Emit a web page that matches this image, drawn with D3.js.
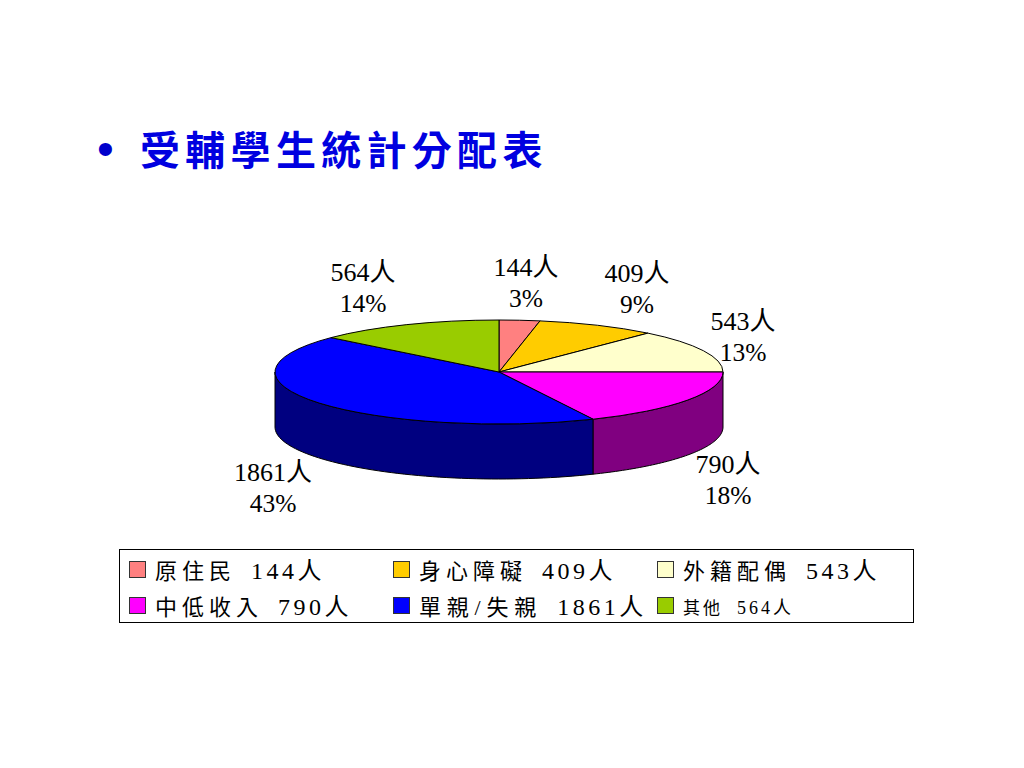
<!DOCTYPE html>
<html><head><meta charset="utf-8">
<script src="https://cdn.jsdelivr.net/npm/d3@7"></script>
<style>html,body{margin:0;padding:0;background:#fff;overflow:hidden}svg{display:block}</style>
</head><body><svg id="c" width="1024" height="768"></svg>
<script>
const titleText = "受輔學生統計分配表";
const categories = ["原住民","身心障礙","外籍配偶","中低收入","單親/失親","其他"];
const values = [144,409,543,790,1861,564];
const percents = [3,9,13,18,43,14];
const unit = "人";
const topColors = ["#FF8080","#FFCC00","#FFFFCC","#FF00FF","#0000FF","#99CC00"];
const sideColors = [null,null,null,"#800080","#000080",null];

const svg = d3.select("#c");
const serif = "'Liberation Serif','Noto Sans CJK TC',serif";
const cjk = "'Noto Sans CJK TC',serif";

// title
svg.append("text").attr("x",97).attr("y",165).attr("font-family","'Liberation Sans',sans-serif")
  .attr("font-size",48).attr("fill","#0000CC").text("•");
svg.append("text").attr("x",140).attr("y",165).attr("font-family",cjk).attr("font-weight",700)
  .attr("font-size",40).attr("letter-spacing",5.3).attr("fill","#0000E0").text(titleText);

// pie: angles pass through a perspective warp, as in the 3-D projection of the original
const cx=499, cy=372, rx=224, ry=52, depth=55;
const deg = Math.PI/180;
const warp = d3.scaleLinear()
  .domain([0,12,46.2,91.5,157.5,312.9,360].map(a=>a*deg))
  .range([0,10.5,41.7,90,155.2,311.4,360].map(a=>a*deg));
const pie = d3.pie().sort(null).value(d=>d).startAngle(0).endAngle(2*Math.PI);
const arcs = pie(values).map(d=>({...d,startAngle:warp(d.startAngle),endAngle:warp(d.endAngle)}));
const g = svg.append("g");
const ptX = a => cx + rx*Math.sin(a);
const ptY = a => cy - ry*Math.cos(a);
const line = d3.line().x(d=>d[0]).y(d=>d[1]);

// side wall
arcs.forEach((d,i)=>{
  if(!sideColors[i]) return;
  const a0=Math.max(d.startAngle,Math.PI/2), a1=Math.min(d.endAngle,3*Math.PI/2);
  const n=60, top=d3.range(n+1).map(k=>a0+(a1-a0)*k/n);
  const pts = top.map(a=>[ptX(a),ptY(a)]).concat(top.slice().reverse().map(a=>[ptX(a),ptY(a)+depth]));
  g.append("path").attr("d",line(pts)+"Z").attr("fill",sideColors[i])
    .attr("stroke","#000").attr("stroke-width",1).attr("stroke-linejoin","round");
});
// top
const unitArc = d3.arc().innerRadius(0).outerRadius(1);
g.selectAll("path.top").data(arcs).join("path").attr("class","top")
  .attr("d",unitArc)
  .attr("transform",`translate(${cx},${cy}) scale(${rx},${ry})`)
  .attr("fill",(d,i)=>topColors[i])
  .attr("stroke","#000").attr("stroke-width",1)
  .attr("vector-effect","non-scaling-stroke").attr("stroke-linejoin","round");

// data labels
const labelAt = [[526,276],[637,282],[743,330],[728,473],[273,481],[363,281]];
values.forEach((v,i)=>{
  const [x,y]=labelAt[i];
  const t=svg.append("g").attr("font-family",serif).attr("text-anchor","middle").attr("fill","#000");
  t.append("text").attr("x",x).attr("y",y).attr("font-size",26).text(v+unit);
  t.append("text").attr("x",x).attr("y",y+31).attr("font-size",25.5).text(percents[i]+"%");
});

// legend
svg.append("rect").attr("x",119.5).attr("y",549.5).attr("width",794).attr("height",73)
  .attr("fill","#fff").attr("stroke","#000").attr("stroke-width",1);
const colX=[129,393,657], rowY=[561,597];
categories.forEach((c,i)=>{
  const x=colX[i%3], y=rowY[Math.floor(i/3)];
  svg.append("rect").attr("x",x+.5).attr("y",y+.5).attr("width",16).attr("height",16)
    .attr("fill",topColors[i]).attr("stroke","#333").attr("stroke-width",1);
  const small = i===5;
  const t=svg.append("text").attr("x",x+26).attr("y",y+(small?17:18))
    .attr("font-family",serif).attr("fill","#000");
  t.append("tspan").attr("font-size",small?17:22).attr("letter-spacing",small?3:(i===4?5.8:5)).text(c);
  t.append("tspan").attr("dx",small?14:15).attr("font-size",small?18:24).attr("letter-spacing",small?3:3.5).text(values[i]+unit);
});
</script></body></html>
